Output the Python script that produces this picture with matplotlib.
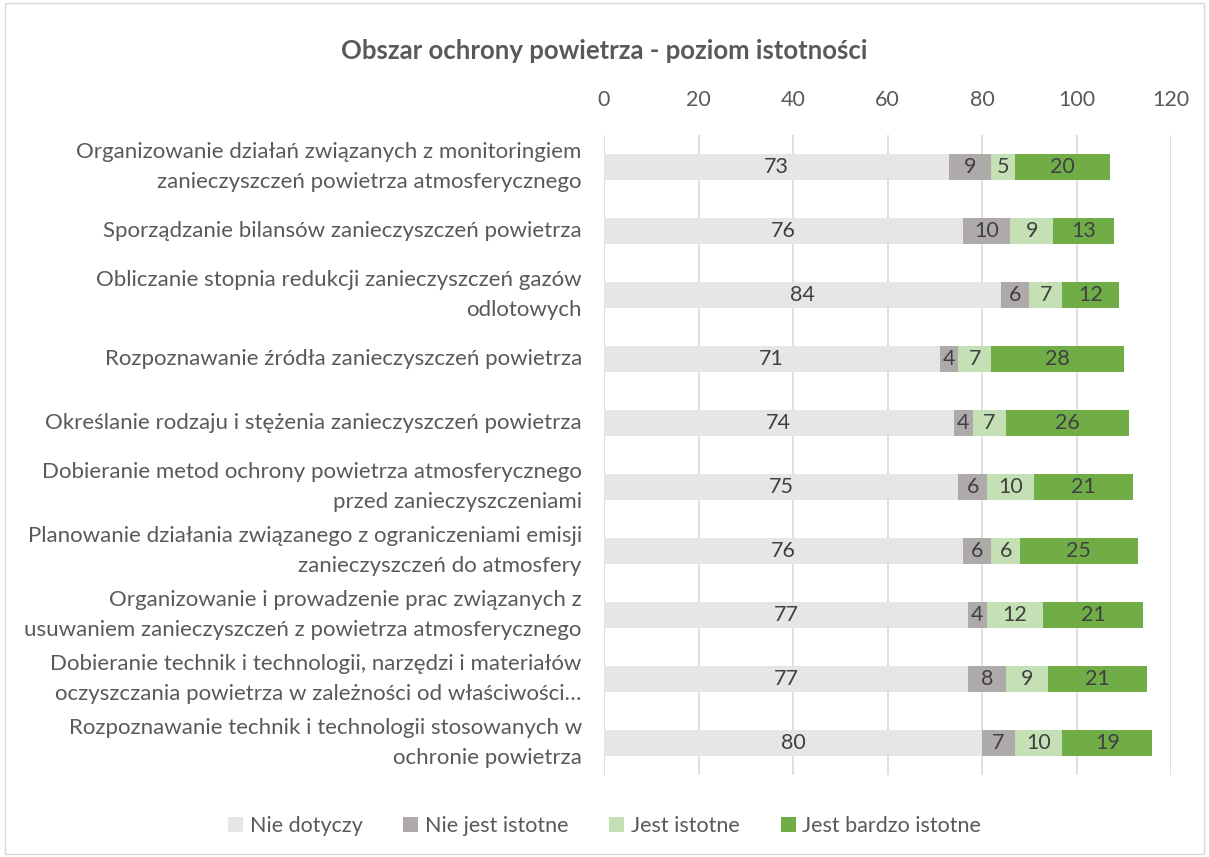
import matplotlib.pyplot as plt
from matplotlib.patches import Rectangle

plt.rcParams['font.family'] = ['Lato', 'DejaVu Sans']

# Data
categories = [
    "Organizowanie działań związanych z monitoringiem\nzanieczyszczeń powietrza atmosferycznego",
    "Sporządzanie bilansów zanieczyszczeń powietrza",
    "Obliczanie stopnia redukcji zanieczyszczeń gazów\nodlotowych",
    "Rozpoznawanie źródła zanieczyszczeń powietrza",
    "Określanie rodzaju i stężenia zanieczyszczeń powietrza",
    "Dobieranie metod ochrony powietrza atmosferycznego\nprzed zanieczyszczeniami",
    "Planowanie działania związanego z ograniczeniami emisji\nzanieczyszczeń do atmosfery",
    "Organizowanie i prowadzenie prac związanych z\nusuwaniem zanieczyszczeń z powietrza atmosferycznego",
    "Dobieranie technik i technologii, narzędzi i materiałów\noczyszczania powietrza w zależności od właściwości…",
    "Rozpoznawanie technik i technologii stosowanych w\nochronie powietrza",
]
series_names = ["Nie dotyczy", "Nie jest istotne", "Jest istotne", "Jest bardzo istotne"]
nie_dotyczy = [73, 76, 84, 71, 74, 75, 76, 77, 77, 80]
nie_jest_istotne = [9, 10, 6, 4, 4, 6, 6, 4, 8, 7]
jest_istotne = [5, 9, 7, 7, 7, 10, 6, 12, 9, 10]
jest_bardzo_istotne = [20, 13, 12, 28, 26, 21, 25, 21, 21, 19]
ticks = [0, 20, 40, 60, 80, 100, 120]

colors = ["#E7E6E6", "#AEAAAA", "#C5E0B4", "#70AD47"]
text_color = "#595959"

fig = plt.figure(figsize=(12.09, 8.57), dpi=100)
ax = fig.add_axes([0.4996, 0.0957, 0.469, 0.7468])

y = list(range(len(categories)))
left = [0] * len(categories)
for name, vals, col in zip(series_names,
                           [nie_dotyczy, nie_jest_istotne, jest_istotne, jest_bardzo_istotne],
                           colors):
    bars = ax.barh(y, vals, left=left, height=0.41, color=col, label=name, zorder=3)
    for b, v in zip(bars, vals):
        ax.text(b.get_x() + b.get_width() / 2, b.get_y() + b.get_height() / 2, str(v),
                ha='center', va='center', fontsize=15.5, color="#404040", zorder=4)
    left = [l + v for l, v in zip(left, vals)]

ax.set_xlim(0, 120)
ax.set_ylim(len(categories) - 0.5, -0.5)
ax.set_xticks(ticks)
ax.xaxis.tick_top()
ax.tick_params(axis='x', length=0, labelsize=15.5, labelcolor=text_color, pad=18)
ax.set_yticks(y)
ax.set_yticklabels(categories, fontsize=16, color=text_color, linespacing=1.6, va='center')
ax.tick_params(axis='y', length=0, pad=16)
ax.grid(axis='x', color="#D9D9D9", linewidth=1.2, zorder=0)
for s in ax.spines.values():
    s.set_visible(False)

fig.text(0.5, 0.94, "Obszar ochrony powietrza - poziom istotności", ha='center', va='center',
         fontsize=18.5, fontweight='bold', color=text_color)

leg = fig.legend(loc='center', bbox_to_anchor=(0.5, 0.036), ncol=4, frameon=False,
                 fontsize=15.5, handlelength=0.7, handleheight=0.7, columnspacing=1.9,
                 handletextpad=0.3)
for t in leg.get_texts():
    t.set_color(text_color)

fig.patches.append(Rectangle((0.004, 0.004), 0.992, 0.992, transform=fig.transFigure,
                             fill=False, edgecolor="#D9D9D9", linewidth=1))

fig.savefig("out.png", dpi=100)
